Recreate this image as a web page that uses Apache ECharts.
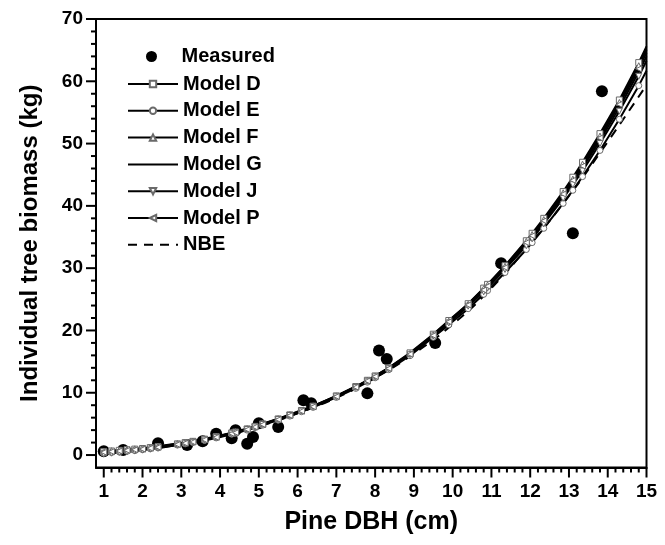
<!DOCTYPE html>
<html>
<head>
<meta charset="utf-8">
<script src="https://cdn.jsdelivr.net/npm/echarts@6/dist/echarts.min.js"></script>
<style>html,body{margin:0;padding:0;background:#fff;}#chart{width:665px;height:545px;}</style>
</head>
<body>
<div id="chart"></div>
<script>
// ---- data ----
var xTicks = [1,2,3,4,5,6,7,8,9,10,11,12,13,14,15];
var yTicks = [0,10,20,30,40,50,60,70];

var measuredDBH = [1.0, 1.5, 2.4, 3.15, 3.55, 3.9, 4.3, 4.4, 4.7, 4.85, 5.0, 5.5, 6.15, 6.35, 7.8, 8.1, 8.3, 9.55, 11.25, 13.1, 13.85];
var measuredBiomass = [0.6, 0.8, 1.9, 1.6, 2.2, 3.4, 2.7, 4.0, 1.8, 2.9, 5.1, 4.5, 8.8, 8.3, 9.9, 16.8, 15.4, 18.0, 30.8, 35.6, 58.4];

var modelDBH = [1.0,1.2,1.4,1.6,1.8,2.0,2.2,2.4,2.9,3.1,3.3,3.6,3.9,4.3,4.4,4.7,4.9,5.1,5.5,5.8,6.1,6.4,7.0,7.5,7.8,8.0,8.35,8.9,9.5,9.9,10.4,10.8,10.9,11.35,11.9,12.05,12.35,12.85,13.1,13.35,13.8,14.3,14.8,15.0];
var modelD = [0.55,0.65,0.75,0.85,0.95,1.05,1.2,1.35,1.8,2.0,2.2,2.55,2.95,3.55,3.7,4.2,4.6,5.0,5.8,6.45,7.15,7.85,9.5,11.0,12.0,12.7,14.0,16.4,19.4,21.6,24.3,26.8,27.4,30.4,34.4,35.6,38.0,42.3,44.6,47.0,51.6,57.0,63.0,65.6];
var modelE = [0.3,0.4,0.5,0.6,0.7,0.85,1.0,1.15,1.6,1.8,2.0,2.35,2.75,3.35,3.5,4.0,4.4,4.8,5.6,6.25,6.95,7.65,9.25,10.7,11.7,12.4,13.7,15.95,18.9,20.9,23.5,25.8,26.4,29.3,33.0,34.1,36.4,40.4,42.5,44.7,48.9,53.9,59.3,61.7];
var modelF = [0.6,0.7,0.8,0.9,1.0,1.1,1.25,1.4,1.85,2.05,2.25,2.6,3.0,3.6,3.75,4.25,4.65,5.05,5.85,6.5,7.2,7.9,9.5,11.0,12.0,12.7,14.0,16.3,19.3,21.5,24.2,26.7,27.3,30.3,34.3,35.4,37.8,42.1,44.3,46.7,51.2,56.6,62.5,65.1];
var modelG = [0.5,0.6,0.7,0.8,0.9,1.0,1.15,1.3,1.75,1.95,2.15,2.5,2.9,3.5,3.65,4.15,4.55,4.95,5.75,6.4,7.1,7.8,9.4,10.9,11.9,12.6,13.9,16.2,19.2,21.3,24.0,26.4,27.0,30.0,33.9,35.0,37.4,41.6,43.8,46.1,50.5,55.8,61.5,64.0];
var modelJ = [0.2,0.3,0.4,0.5,0.65,0.8,0.95,1.1,1.6,1.8,2.05,2.4,2.8,3.4,3.55,4.1,4.5,4.9,5.7,6.35,7.05,7.75,9.35,10.85,11.85,12.55,13.85,16.1,19.1,21.2,23.9,26.2,26.8,29.8,33.6,34.7,37.1,41.2,43.4,45.6,50.0,55.2,60.8,63.3];
var modelP = [0.45,0.55,0.65,0.75,0.85,0.95,1.1,1.25,1.7,1.9,2.1,2.45,2.85,3.45,3.6,4.1,4.5,4.9,5.7,6.35,7.05,7.75,9.4,10.9,11.9,12.6,13.9,16.2,19.2,21.4,24.1,26.5,27.1,30.1,34.1,35.2,37.6,41.9,44.1,46.4,50.9,56.3,62.0,64.6];

var nbeDBH = [1,2,3,4,5,6,7,8,9,10,11,12,13,14,15];
var nbeBiomass = [0.45,1.0,1.8,3.0,4.6,6.7,9.2,12.4,16.3,21.0,26.8,33.9,41.6,50.3,59.4];

// ---- build ----
var FONT = '"Liberation Sans", Arial, sans-serif';
var X_MIN = 0.8, X_MAX = 15, Y_MIN = -2, Y_MAX = 70;
function pairs(xs, ys, lastNoSymbol) {
  return xs.map(function (x, i) {
    if (lastNoSymbol && i === xs.length - 1) return { value: [x, ys[i]], symbol: 'none' };
    return [x, ys[i]];
  });
}
var markerStyle = { color: '#ffffff', borderColor: '#6a6a6a', borderWidth: 1, opacity: 1 };
function modelSeries(name, ys, symbol, rotate) {
  return {
    name: name, type: 'line', data: pairs(modelDBH, ys, true),
    symbol: symbol, symbolSize: 6, symbolRotate: rotate || 0,
    showSymbol: symbol !== 'none',
    lineStyle: { color: '#000', width: 2 },
    itemStyle: markerStyle,
    emphasis: { disabled: true }, z: 3
  };
}
var legendText = { fontFamily: FONT, fontSize: 20, fontWeight: 'bold', color: '#000' };

var chart = echarts.init(document.getElementById('chart'));
var option = {
  animation: false,
  backgroundColor: '#ffffff',
  grid: { left: 96, right: 18.5, top: 19, bottom: 77.5, show: true, borderColor: '#000', borderWidth: 2, backgroundColor: 'transparent' },
  legend: [{
    orient: 'vertical', left: 146, top: 46.5, padding: 0, itemWidth: 50, itemHeight: 11, itemGap: 7,
    textStyle: legendText, data: ['Measured']
  }, {
    orient: 'vertical', left: 127, top: 74, padding: 0, itemWidth: 50, itemHeight: 8, itemGap: 6.8,
    textStyle: legendText,
    data: ['Model D', 'Model E', 'Model F',
      { name: 'Model G', itemStyle: { opacity: 0 } },
      'Model J', 'Model P',
      { name: 'NBE', itemStyle: { opacity: 0 } }]
  }],
  xAxis: {
    type: 'value', min: X_MIN, max: X_MAX,
    name: 'Pine DBH (cm)', nameLocation: 'middle', nameGap: 42,
    nameTextStyle: { fontFamily: FONT, fontSize: 25, fontWeight: 'bold', color: '#000' },
    axisLine: { onZero: false, lineStyle: { color: '#000', width: 2 } },
    axisTick: { show: false },
    axisLabel: { customValues: xTicks, margin: 15, fontFamily: FONT, fontSize: 19, fontWeight: 'bold', color: '#000' },
    splitLine: { show: false }
  },
  yAxis: {
    type: 'value', min: Y_MIN, max: Y_MAX,
    name: 'Individual tree biomass (kg)', nameLocation: 'middle', nameGap: 54,
    nameTextStyle: { fontFamily: FONT, fontSize: 24, fontWeight: 'bold', color: '#000' },
    axisLine: { show: true, onZero: false, lineStyle: { color: '#000', width: 2 } },
    axisTick: { show: false },
    axisLabel: { customValues: yTicks, margin: 13, fontFamily: FONT, fontSize: 19, fontWeight: 'bold', color: '#000' },
    splitLine: { show: false }
  },
  series: [
    {
      name: 'Measured', type: 'scatter', data: pairs(measuredDBH, measuredBiomass, false),
      symbol: 'circle', symbolSize: 12, itemStyle: { color: '#000', opacity: 1 }, z: 2, emphasis: { disabled: true }
    },
    modelSeries('Model D', modelD, 'rect', 0),
    modelSeries('Model E', modelE, 'circle', 0),
    modelSeries('Model F', modelF, 'triangle', 0),
    modelSeries('Model G', modelG, 'none', 0),
    modelSeries('Model J', modelJ, 'triangle', 180),
    modelSeries('Model P', modelP, 'triangle', 90),
    {
      name: 'NBE', type: 'line', data: pairs(nbeDBH, nbeBiomass, false),
      symbol: 'none', smooth: true,
      lineStyle: { color: '#000', width: 2, type: [9, 7] },
      itemStyle: { color: '#000' }, z: 2, emphasis: { disabled: true }
    }
  ]
};
chart.setOption(option);

// ---- axis ticks (major + minor), placed through the chart's own axis scales ----
function px(v) { return chart.convertToPixel({ xAxisIndex: 0 }, v); }
function py(v) { return chart.convertToPixel({ yAxisIndex: 0 }, v); }
var axisX = px(X_MIN), axisY = py(Y_MIN);
var tickEls = [];
function tickLine(x1, y1, x2, y2) {
  tickEls.push({ type: 'line', silent: true, z: 10,
    shape: { x1: x1, y1: y1, x2: x2, y2: y2 },
    style: { stroke: '#000', lineWidth: 2 } });
}
for (var i = 1; ; i++) {            // x ticks every 0.2, long at whole numbers
  var xv = Math.round((X_MIN + i * 0.2) * 10) / 10;
  if (xv > X_MAX + 1e-9) break;
  var xMajor = Math.abs(xv - Math.round(xv)) < 1e-6;
  var X = px(xv);
  tickLine(X, axisY, X, axisY + (xMajor ? 10 : 5));
}
for (var j = 1; ; j++) {            // y ticks every 2, long at multiples of 10
  var yv = Y_MIN + j * 2;
  if (yv > Y_MAX + 1e-9) break;
  var yMajor = yv % 10 === 0;
  var Y = py(yv);
  tickLine(axisX, Y, axisX - (yMajor ? 10 : 5), Y);
}
chart.setOption({ graphic: { elements: tickEls } });
</script>
</body>
</html>
